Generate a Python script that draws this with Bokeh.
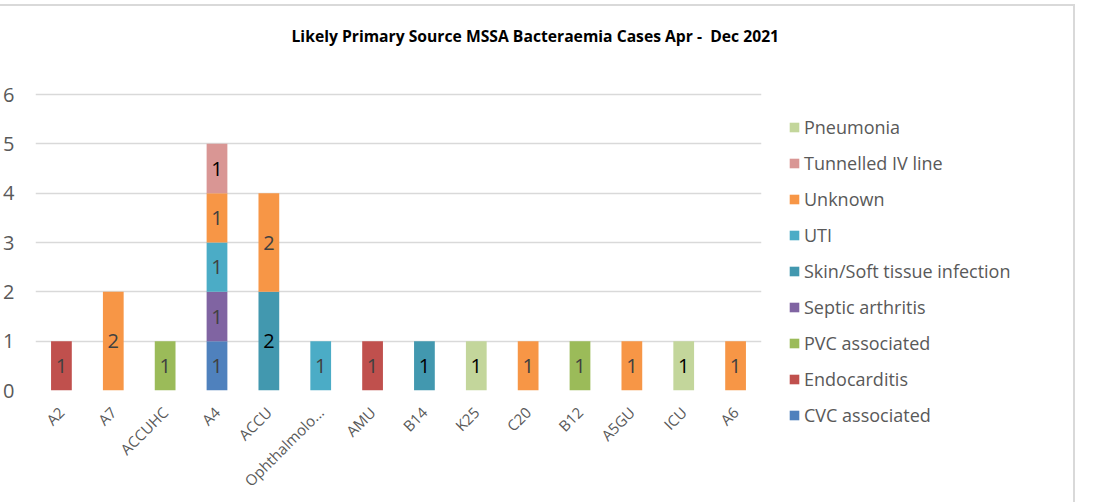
import math

from bokeh.plotting import figure
from bokeh.models import (ColumnDataSource, FactorRange, FixedTicker, Legend,
                          LegendItem, InlineStyleSheet, Range1d)
from bokeh.core.properties import value
from bokeh.embed import file_html
from bokeh.resources import INLINE

# --- data -------------------------------------------------------------------
wards = ["A2", "A7", "ACCUHC", "A4", "ACCU", "Ophthalmolo...", "AMU", "B14",
         "K25", "C20", "B12", "A5GU", "ICU", "A6"]

cvc_associated   = [0, 0, 0, 1, 0, 0, 0, 0, 0, 0, 0, 0, 0, 0]
endocarditis     = [1, 0, 0, 0, 0, 0, 1, 0, 0, 0, 0, 0, 0, 0]
pvc_associated   = [0, 0, 1, 0, 0, 0, 0, 0, 0, 0, 1, 0, 0, 0]
septic_arthritis = [0, 0, 0, 1, 0, 0, 0, 0, 0, 0, 0, 0, 0, 0]
skin_soft_tissue = [0, 0, 0, 0, 2, 0, 0, 1, 0, 0, 0, 0, 0, 0]
uti              = [0, 0, 0, 1, 0, 1, 0, 0, 0, 0, 0, 0, 0, 0]
unknown          = [0, 2, 0, 1, 2, 0, 0, 0, 0, 1, 0, 1, 0, 1]
tunnelled_iv     = [0, 0, 0, 1, 0, 0, 0, 0, 0, 0, 0, 0, 0, 0]
pneumonia        = [0, 0, 0, 0, 0, 0, 0, 0, 1, 0, 0, 0, 1, 0]

series_names = ["CVC associated", "Endocarditis", "PVC associated",
                "Septic arthritis", "Skin/Soft tissue infection", "UTI",
                "Unknown", "Tunnelled IV line", "Pneumonia"]
series_values = [cvc_associated, endocarditis, pvc_associated, septic_arthritis,
                 skin_soft_tissue, uti, unknown, tunnelled_iv, pneumonia]
series_colors = ["#4f81bd", "#c0504d", "#9bbb59", "#8064a2", "#4298af",
                 "#4bacc6", "#f79646", "#d99694", "#c3d69b"]
label_colors = ["#404040", "#404040", "#404040", "#404040", "#000000",
                "#404040", "#404040", "#000000", "#000000"]

y_ticks = [0, 1, 2, 3, 4, 5, 6]

title_text = "Likely Primary Source MSSA Bacteraemia Cases Apr -\u00a0 Dec 2021"

FONT = "Open Sans"
GREY = "#595959"

# --- layout -----------------------------------------------------------------
PX_PER_UNIT = 296 / 6          # vertical pixels per case
FRAME_H = 330                  # a little headroom above the top gridline
y_end = FRAME_H / PX_PER_UNIT

# light chart-area border along the top and right edges
frame_css = InlineStyleSheet(css="""
:host { position: relative; }
:host::after {
  content: "";
  position: absolute;
  left: 0px;
  top: 4px;
  width: 1075px;
  height: 498px;
  border-top: 2px solid #d9d9d9;
  border-right: 2px solid #d9d9d9;
  box-sizing: border-box;
  pointer-events: none;
}
""")

p = figure(frame_width=726, frame_height=FRAME_H,
           output_backend="svg", toolbar_location=None,
           x_range=FactorRange(factors=wards), y_range=Range1d(0, y_end),
           min_border_left=35, min_border_right=0,
           min_border_top=60, min_border_bottom=112,
           stylesheets=[frame_css])
p.outline_line_color = None
p.background_fill_color = "white"
p.border_fill_color = "white"

# title
p.title.text = title_text
p.title.align = "left"
p.title.offset = 256
p.title.standoff = 28
p.title.text_font = FONT
p.title.text_font_size = "15.7px"
p.title.text_font_style = "bold"
p.title.text_color = "#000000"

# stacked bars
data = {"ward": wards}
for name, vals in zip(series_names, series_values):
    data[name] = vals
source = ColumnDataSource(data)

renderers = p.vbar_stack(series_names, x="ward", width=0.4, source=source,
                         color=series_colors, line_color=None)

# value labels centred in each segment
lab_x, lab_y, lab_t, lab_c = [], [], [], []
bottoms = [0] * len(wards)
for vals, lc in zip(series_values, label_colors):
    for i, v in enumerate(vals):
        if v:
            lab_x.append(wards[i])
            lab_y.append(bottoms[i] + v / 2)
            lab_t.append(str(v))
            lab_c.append(lc)
        bottoms[i] += v
labels = ColumnDataSource(dict(x=lab_x, y=lab_y, t=lab_t, c=lab_c))
p.text(x="x", y="y", text="t", source=labels, text_color="c",
       text_align="center", text_baseline="middle",
       text_font=value(FONT), text_font_size="20px")

# axes
p.yaxis.ticker = FixedTicker(ticks=y_ticks)
p.yaxis.axis_line_color = None
p.yaxis.major_tick_line_color = None
p.yaxis.major_tick_out = 0
p.yaxis.major_tick_in = 0
p.yaxis.minor_tick_line_color = None
p.yaxis.major_label_standoff = 21
p.yaxis.major_label_text_font = FONT
p.yaxis.major_label_text_font_size = "20px"
p.yaxis.major_label_text_color = GREY

p.xaxis.axis_line_color = None
p.xaxis.major_tick_line_color = None
p.xaxis.major_tick_out = 0
p.xaxis.major_tick_in = 0
p.xaxis.minor_tick_line_color = None
p.xaxis.major_label_orientation = math.pi / 4
p.xaxis.major_label_standoff = 19
p.xaxis.major_label_text_font = FONT
p.xaxis.major_label_text_font_size = "15px"
p.xaxis.major_label_text_color = GREY

p.xgrid.grid_line_color = None
p.ygrid.grid_line_color = "#d9d9d9"
p.ygrid.grid_line_width = 1.5

# legend beside the plot area, top entry last in the stack
items = [LegendItem(label=n, renderers=[r])
         for n, r in reversed(list(zip(series_names, renderers)))]
legend = Legend(items=items, location=(27, -37), orientation="vertical",
                padding=0, margin=0, spacing=12,
                glyph_width=12, glyph_height=12, label_height=20,
                label_standoff=4, label_text_font=FONT,
                label_text_font_size="18px", label_text_color=GREY,
                border_line_color=None, background_fill_alpha=0)
p.add_layout(legend, "right")

html = file_html(p, INLINE)
html = html.replace("<head>", "<head><style>html, body { margin: 0; overflow: hidden; }</style>", 1)
open("out.html", "w").write(html)
